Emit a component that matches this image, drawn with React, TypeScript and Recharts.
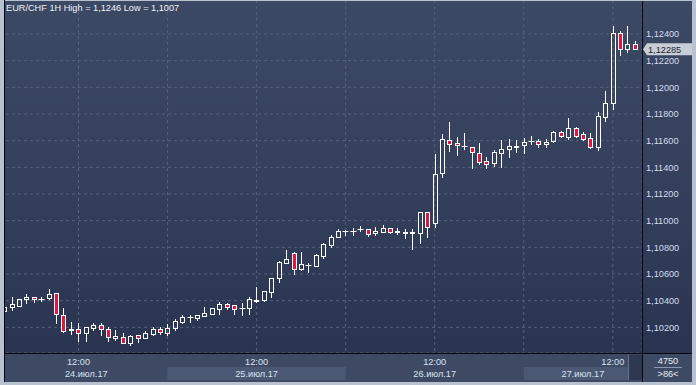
import { Bar, CartesianGrid, ComposedChart, ReferenceLine, XAxis, YAxis } from "recharts";

// EUR/CHF hourly candles, 24.07 02:00 .. 27.07 15:00
const OPEN = [
  1.10323, 1.1035, 1.10362, 1.1041, 1.10425, 1.10409, 1.10418, 1.10455, 1.10293, 1.1018,
  1.1019, 1.10155, 1.10197, 1.10215, 1.1019, 1.10118, 1.1013, 1.1008, 1.10139, 1.10122,
  1.10152, 1.10185, 1.1016, 1.10197, 1.10242, 1.10274, 1.10272, 1.10287, 1.10302, 1.10338,
  1.10373, 1.10365, 1.10343, 1.10345, 1.10401, 1.10405, 1.10467, 1.10572, 1.10685, 1.10758,
  1.1064, 1.10664, 1.10662, 1.10735, 1.1082, 1.10875, 1.10923, 1.10923, 1.10934, 1.10935,
  1.10905, 1.10917, 1.10943, 1.10915, 1.10911, 1.10911, 1.10905, 1.11063, 1.1098, 1.11355,
  1.11603, 1.1158, 1.11558, 1.11555, 1.1151, 1.11445, 1.1143, 1.1151, 1.1154, 1.11556,
  1.11565, 1.11594, 1.11595, 1.11573, 1.11595, 1.11663, 1.11631, 1.11693, 1.11648, 1.11618,
  1.11555, 1.11775, 1.1188, 1.12405, 1.12285, 1.12323,
];
const HIGH = [
  1.1036, 1.1043, 1.10416, 1.10448, 1.10428, 1.1043, 1.10485, 1.10458, 1.10347, 1.10238,
  1.1023, 1.10205, 1.10235, 1.1023, 1.10199, 1.1018, 1.1016, 1.10139, 1.10143, 1.10173,
  1.102, 1.102, 1.10225, 1.10263, 1.1029, 1.1029, 1.10292, 1.1035, 1.10345, 1.10388,
  1.10385, 1.10368, 1.10385, 1.1043, 1.10505, 1.10476, 1.1057, 1.10698, 1.1078, 1.10765,
  1.10765, 1.1068, 1.1075, 1.10835, 1.10893, 1.10938, 1.1093, 1.10943, 1.1096, 1.10938,
  1.10955, 1.10968, 1.10945, 1.10943, 1.10935, 1.10935, 1.11065, 1.11065, 1.115, 1.1165,
  1.11738, 1.11625, 1.11655, 1.11556, 1.1158, 1.1148, 1.1153, 1.11605, 1.1161, 1.11605,
  1.11618, 1.11635, 1.1161, 1.1161, 1.1167, 1.11673, 1.1177, 1.11705, 1.11663, 1.11655,
  1.11815, 1.11975, 1.1246, 1.12423, 1.1246, 1.12345,
];
const LOW = [
  1.10308, 1.1033, 1.1036, 1.1038, 1.10392, 1.10395, 1.10416, 1.1023, 1.10165, 1.10148,
  1.10098, 1.10098, 1.1018, 1.10143, 1.10098, 1.10105, 1.10079, 1.10068, 1.10092, 1.10122,
  1.10143, 1.1015, 1.10143, 1.1018, 1.10235, 1.10242, 1.10255, 1.10287, 1.103, 1.103,
  1.10335, 1.103, 1.10293, 1.10302, 1.10392, 1.10401, 1.10425, 1.10542, 1.10685, 1.106,
  1.1063, 1.10615, 1.10662, 1.10718, 1.10805, 1.10875, 1.10893, 1.10893, 1.10925, 1.10887,
  1.10893, 1.10917, 1.1091, 1.109, 1.10872, 1.10788, 1.10835, 1.10874, 1.10955, 1.1133,
  1.11525, 1.11493, 1.11535, 1.11397, 1.11423, 1.11397, 1.11412, 1.11405, 1.1148, 1.11513,
  1.1151, 1.11573, 1.11555, 1.11555, 1.11588, 1.11628, 1.11613, 1.1163, 1.11605, 1.11545,
  1.1153, 1.11748, 1.11835, 1.1224, 1.12267, 1.12285,
];
const CLOSE = [
  1.10353, 1.10375, 1.10413, 1.1043, 1.1041, 1.10416, 1.1045, 1.10298, 1.10173, 1.10191,
  1.10155, 1.102, 1.10218, 1.1019, 1.10125, 1.10135, 1.1008, 1.10135, 1.10122, 1.10158,
  1.10188, 1.10163, 1.10195, 1.1025, 1.10278, 1.10278, 1.1029, 1.10305, 1.10343, 1.10377,
  1.10355, 1.1034, 1.10345, 1.1041, 1.10405, 1.10473, 1.10568, 1.1069, 1.1071, 1.10635,
  1.10673, 1.10668, 1.1074, 1.10823, 1.10875, 1.10923, 1.10926, 1.10926, 1.10938, 1.10902,
  1.10923, 1.10943, 1.10917, 1.10919, 1.10915, 1.10915, 1.11063, 1.10949, 1.11348, 1.1161,
  1.11573, 1.11565, 1.1156, 1.11513, 1.11442, 1.11423, 1.11513, 1.11535, 1.1156, 1.1156,
  1.1159, 1.11595, 1.11573, 1.1159, 1.11663, 1.11633, 1.11693, 1.11635, 1.11613, 1.11555,
  1.11783, 1.1188, 1.12405, 1.12285, 1.12323, 1.12285,
];

const Y_TICKS = [1.102, 1.104, 1.106, 1.108, 1.11, 1.112, 1.114, 1.116, 1.118, 1.12, 1.122, 1.124];
const GRID_X = [10, 22, 34, 46, 58, 70, 82];
const LABEL_X = [10, 34, 58, 82];
const HOUR_LABELS = ["12:00", "12:00", "12:00", "12:00"];
const DAY_LABELS = ["24.июл.17", "25.июл.17", "26.июл.17", "27.июл.17"];
const VOLUME_LABEL = "4750";

const W = 696;
const H = 385;
const PLOT_RIGHT = 642;
const X_MIN = -0.58;
const X_MAX = 85.93;
const Y_MIN = 1.100075;
const Y_MAX = 1.12655;
const FONT = "'Liberation Sans', Arial, sans-serif";
const FS = 9.2;
const RED = "#e3173d";
const FRAME = "#b7c1cf";

const fmt = (v: number, d: number) => v.toFixed(d).replace(".", ",");

const data = OPEN.map((o, i) => ({
  i,
  open: o,
  high: HIGH[i],
  low: LOW[i],
  close: CLOSE[i],
  range: [LOW[i], HIGH[i]],
}));

function Candle(props: any) {
  const { x, y, width, height, payload } = props;
  if (x == null || y == null) return null;
  const top = Math.min(y, y + height);
  const h = Math.abs(height);
  const { open, close, high, low } = payload;
  const span = high - low || 1;
  const py = (v: number) => top + ((high - v) / span) * h;
  const cx = Math.round(x + width / 2) + 0.5;
  const bt = Math.round(py(Math.max(open, close))) + 0.5;
  const bb = Math.round(py(Math.min(open, close))) + 0.5;
  const hi = Math.round(py(high)) + 0.5;
  const lo = Math.round(py(low)) + 0.5;
  const up = close >= open;
  return (
    <g>
      {hi < bt && <line x1={cx} x2={cx} y1={hi - 0.5} y2={bt} stroke="#fff" strokeWidth={1} />}
      {lo > bb && <line x1={cx} x2={cx} y1={bb} y2={lo + 0.5} stroke="#fff" strokeWidth={1} />}
      {bb - bt < 1 ? (
        <line x1={cx - 3} x2={cx + 3} y1={bt} y2={bt} stroke="#fff" strokeWidth={1} />
      ) : (
        <rect
          x={cx - 2}
          y={bt}
          width={4}
          height={bb - bt}
          fill={up ? "none" : RED}
          stroke="#fff"
          strokeWidth={1}
        />
      )}
    </g>
  );
}

function PriceTick(props: any) {
  const { x, y, payload } = props;
  return (
    <text x={x} y={y} dy={3.3} fill="#d3ddee" fontSize={FS} fontFamily={FONT} textAnchor="start">
      {fmt(payload.value, 5)}
    </text>
  );
}

function TimeTick(props: any) {
  const { x, y, payload } = props;
  const k = LABEL_X.indexOf(payload.value);
  if (k < 0) return <g />;
  const ppu = PLOT_RIGHT / (X_MAX - X_MIN);
  const b0 = Math.max(5, x - 12 * ppu);
  const b1 = Math.min(PLOT_RIGHT, x + 12 * ppu);
  return (
    <g>
      {k % 2 === 1 && <rect x={b0} y={y + 14} width={b1 - b0} height={13} fill="#4a5873" />}
      <text x={x} y={y + 12} fill="#d8e2f2" fontSize={FS} fontFamily={FONT} textAnchor="middle">
        {HOUR_LABELS[k]}
      </text>
      <text x={(b0 + b1) / 2} y={y + 24} fill="#d8e2f2" fontSize={FS} fontFamily={FONT} textAnchor="middle">
        {DAY_LABELS[k]}
      </text>
    </g>
  );
}

function PriceTag(props: any) {
  const vb = props.viewBox || {};
  const x0 = (vb.x || 0) + (vb.width || 0) + 1;
  const y = vb.y || 0;
  const pts = `${x0},${y} ${x0 + 4},${y - 6} ${x0 + 49},${y - 6} ${x0 + 49},${y + 6} ${x0 + 4},${y + 6}`;
  return (
    <g>
      <polygon points={pts} fill="#c9ced6" />
      <text x={x0 + 5} y={y + 3.4} fill="#17212f" fontSize={FS} fontFamily={FONT}>
        {fmt(CLOSE[CLOSE.length - 1], 5)}
      </text>
    </g>
  );
}

export default function App() {
  const hi = Math.max(...HIGH);
  const lo = Math.min(...LOW);
  const last = CLOSE[CLOSE.length - 1];

  return (
    <div style={{ position: "absolute", left: 0, top: 0, width: W, height: H, background: FRAME, overflow: "hidden" }}>
      <div
        style={{
          position: "absolute",
          left: 5,
          top: 1,
          width: 687,
          height: 352,
          background: "linear-gradient(to bottom, #3c4965 0%, #34405c 50%, #2a3450 100%)",
        }}
      />
      <div style={{ position: "absolute", left: 5, top: 354, width: 687, height: 28, background: "#3e4a64" }} />

      <div style={{ position: "absolute", left: 0, top: 0 }}>
        <ComposedChart width={W} height={H} data={data} margin={{ top: 0, right: 4, bottom: 0, left: 0 }}>
          <CartesianGrid stroke="#56627c" strokeDasharray="3 3" />
          <XAxis
            dataKey="i"
            type="number"
            domain={[X_MIN, X_MAX]}
            ticks={GRID_X}
            interval={0}
            allowDataOverflow
            height={32}
            tickSize={0}
            tickMargin={0}
            axisLine={false}
            tickLine={false}
            tick={<TimeTick />}
          />
          <YAxis
            orientation="right"
            width={50}
            domain={[Y_MIN, Y_MAX]}
            ticks={Y_TICKS}
            interval={0}
            allowDataOverflow
            tickSize={0}
            tickMargin={4}
            axisLine={false}
            tickLine={false}
            tick={<PriceTick />}
          />
          <Bar dataKey="range" barSize={5} shape={<Candle />} isAnimationActive={false} />
          <ReferenceLine y={last} stroke="none" label={<PriceTag />} />
        </ComposedChart>
      </div>

      {/* frame and separators */}
      <div style={{ position: "absolute", left: 0, top: 0, width: 4, height: H, background: FRAME }} />
      <div style={{ position: "absolute", left: 0, top: 0, width: W, height: 1, background: FRAME }} />
      <div style={{ position: "absolute", left: 692, top: 0, width: 4, height: H, background: FRAME }} />
      <div style={{ position: "absolute", left: 0, top: 382, width: W, height: 3, background: FRAME }} />
      <div style={{ position: "absolute", left: 4, top: 0, width: 1, height: 382, background: "#05070c" }} />
      <div style={{ position: "absolute", left: 642, top: 1, width: 1, height: 381, background: "#05070c" }} />
      <div style={{ position: "absolute", left: 4, top: 353, width: 688, height: 1, background: "#05070c" }} />
      <div
        style={{
          position: "absolute",
          left: 628,
          top: 355,
          width: 13,
          height: 25,
          background: "#2e3851",
          borderLeft: "1px solid #66728c",
        }}
      />

      <div
        style={{
          position: "absolute",
          left: 6,
          top: 3,
          fontFamily: FONT,
          fontSize: FS,
          lineHeight: "10px",
          color: "#eef2f8",
          whiteSpace: "nowrap",
        }}
      >
        EUR/CHF 1H High = {fmt(hi, 4)} Low = {fmt(lo, 4)}
      </div>

      <div
        style={{
          position: "absolute",
          left: 654,
          top: 356,
          width: 28,
          fontFamily: FONT,
          fontSize: FS,
          lineHeight: "10px",
          color: "#e4eaf4",
          textAlign: "center",
        }}
      >
        <div style={{ borderBottom: "1px solid #8d99b0", paddingBottom: 1 }}>{VOLUME_LABEL}</div>
        <div style={{ paddingTop: 1 }}>{`>${OPEN.length}<`}</div>
      </div>
    </div>
  );
}
